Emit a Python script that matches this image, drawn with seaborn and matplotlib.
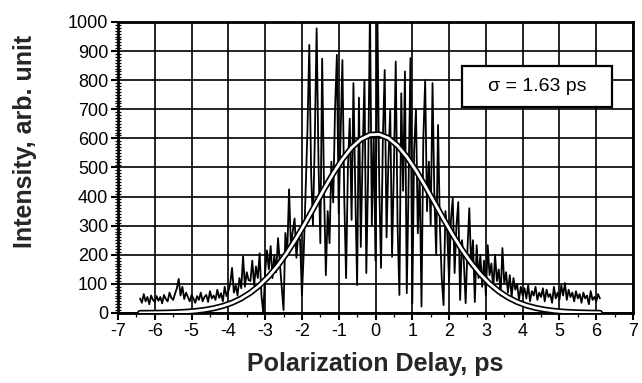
import numpy as np
import pandas as pd
import matplotlib
matplotlib.use("Agg")
import matplotlib.pyplot as plt
from matplotlib.ticker import MultipleLocator
from matplotlib.patches import Rectangle
import seaborn as sns

trace_start = -6.40
trace_step = 0.05
intensity = [
    50, 35, 65, 40, 55, 30, 60, 45, 38, 58,
    42, 55, 33, 62, 48, 40, 70, 52, 45, 66,
    85, 117, 60, 90, 48, 70, 55, 40, 62, 50,
    35, 58, 45, 70, 40, 55, 62, 38, 75, 50,
    60, 45, 80, 52, 68, 40, 90, 58, 75, 100,
    155, 70, 95, 60, 120, 85, 195, 90, 140, 113,
    110, 180, 95, 160, 120, 205, 60, 0, 140, 215,
    150, 230, 120, 200, 140, 257, 170, 90, 10, 275,
    200, 425, 230, 280, 325, 190, 270, 250, 60, 210,
    420, 628, 921, 480, 300, 600, 978, 520, 240, 874,
    430, 130, 350, 240, 520, 380, 700, 887, 343, 600,
    869, 400, 120, 500, 668, 320, 790, 420, 96, 740,
    227, 550, 800, 137, 480, 1050, 300, 620, 180, 1050,
    450, 155, 600, 835, 260, 520, 700, 193, 500, 864,
    300, 62, 755, 420, 830, 68, 450, 876, 33, 560,
    700, 274, 480, 22, 600, 800, 350, 520, 300, 790,
    400, 200, 646, 300, 120, 27, 350, 280, 106, 320,
    395, 137, 300, 381, 45, 250, 180, 34, 220, 360,
    160, 250, 38, 233, 120, 200, 90, 180, 60, 233,
    130, 170, 80, 200, 110, 150, 60, 223, 100, 140,
    70, 130, 55, 120, 80, 100, 45, 90, 60, 85,
    50, 95, 40, 75, 60, 90, 45, 70, 55, 85,
    40, 80, 55, 65, 35, 90, 50, 70, 45, 95,
    60, 103, 45, 80, 55, 70, 40, 75, 50, 65,
    35, 70, 50, 60, 30, 75, 45, 55, 40, 65,
    50,
]
delay = np.round(trace_start + trace_step * np.arange(len(intensity)), 3)

# ---- Gaussian fit curve
fit_delay = [-6.40, -6.15, -5.90, -5.65, -5.40, -5.15, -4.90, -4.65, -4.40, -4.15,
             -3.90, -3.65, -3.40, -3.15, -2.90, -2.65, -2.40, -2.15, -1.90, -1.65,
             -1.40, -1.15, -0.90, -0.65, -0.40, -0.15, 0.10, 0.35, 0.60, 0.85,
             1.10, 1.35, 1.60, 1.85, 2.10, 2.35, 2.60, 2.85, 3.10, 3.35,
             3.60, 3.85, 4.10, 4.35, 4.60, 4.85, 5.10, 5.35, 5.60, 5.85, 6.10]
fit_intensity = [0.3, 0.5, 0.9, 1.5, 2.5, 4.2, 6.7, 10.5, 16.1, 24.1,
                 35.1, 50.1, 69.9, 95.0, 126.3, 164.0, 208.0, 257.7, 311.7, 368.4,
                 425.3, 479.5, 528.0, 568.0, 596.7, 612.4, 613.8, 601.0, 574.7, 536.8,
                 489.7, 436.5, 379.9, 322.9, 268.2, 217.5, 172.4, 133.4, 100.8, 74.4,
                 53.7, 37.8, 26.0, 17.5, 11.5, 7.4, 4.6, 2.8, 1.7, 1.0, 0.6]

x_ticks = list(range(-7, 8))
y_ticks = list(range(0, 1001, 100))
annotation = "σ = 1.63 ps"
x_label = "Polarization Delay, ps"
y_label = "Intensity, arb. unit"

sns.set_theme(style="ticks")
plt.rcParams["font.family"] = ["Liberation Sans", "DejaVu Sans"]

df = pd.DataFrame({"delay": delay, "intensity": intensity})
fit = pd.DataFrame({"delay": fit_delay, "intensity": fit_intensity})

fig = plt.figure(figsize=(6.42, 3.83), dpi=100)
ax = fig.add_axes([0.1838, 0.1828, 0.8022, 0.7598])

sns.lineplot(data=df, x="delay", y="intensity", ax=ax, color="black",
             linewidth=1.3, estimator=None, sort=False, zorder=3)
sns.lineplot(data=fit, x="delay", y="intensity", ax=ax, color="black",
             linewidth=4.4, estimator=None, sort=False, zorder=4)
sns.lineplot(data=fit, x="delay", y="intensity", ax=ax, color="white",
             linewidth=2.0, estimator=None, sort=False, zorder=5)

ax.set_xlim(-7, 7)
ax.set_ylim(0, 1000)
ax.set_xticks(x_ticks)
ax.set_xticklabels([str(t) for t in x_ticks])
ax.set_yticks(y_ticks)
ax.xaxis.set_minor_locator(MultipleLocator(0.5))
ax.yaxis.set_minor_locator(MultipleLocator(10))

ax.grid(True, which="major", color="black", linewidth=1.2)
ax.set_axisbelow(True)
for s in ax.spines.values():
    s.set_linewidth(2.0)
    s.set_color("black")
    s.set_visible(True)

ax.tick_params(axis="both", which="major", direction="out", length=5, width=1.5,
               color="black", labelsize=13, labelcolor="black", pad=2)
ax.tick_params(axis="y", which="minor", direction="inout", length=4, width=0.9, color="black")
ax.tick_params(axis="x", which="minor", direction="out", length=3, width=0.9, color="black")

ax.set_xlabel(x_label, fontsize=18, fontweight="bold", labelpad=9)
ax.set_ylabel(y_label, fontsize=18, fontweight="bold")
ax.yaxis.set_label_coords(-0.158, 0.588)

box = Rectangle((2.35, 708), 4.07, 141, facecolor="white", edgecolor="black",
                linewidth=1.6, zorder=6)
ax.add_patch(box)
ax.text(4.385, 778, annotation, ha="center", va="center", fontsize=14,
        color="black", zorder=7)

fig.savefig("out.png", dpi=100)
